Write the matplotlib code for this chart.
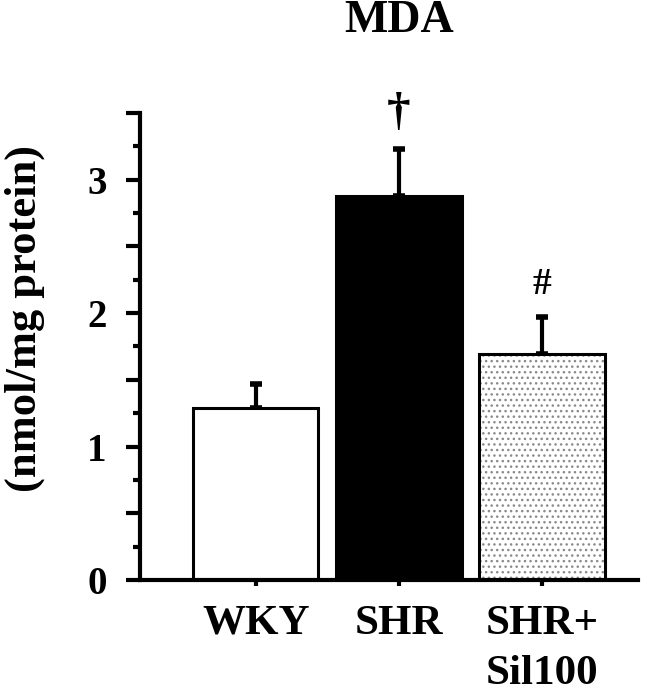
import matplotlib
matplotlib.use("Agg")
import matplotlib.pyplot as plt
from matplotlib.ticker import MultipleLocator, FuncFormatter

categories = ["WKY", "SHR", "SHR+\nSil100"]
means = [1.29, 2.88, 1.69]
errors = [0.18, 0.35, 0.28]
marks = ["", "\u2020", "#"]

plt.rcParams['font.family'] = ['Liberation Serif', 'DejaVu Serif']
plt.rcParams['font.weight'] = 'bold'
plt.rcParams['hatch.linewidth'] = 1.0

fig = plt.figure(figsize=(6.66, 6.95), dpi=100)
ax = fig.add_axes([0.21, 0.1655, 0.748, 0.672])

x = list(range(len(categories)))
w = 0.875
ax.bar(x[0], means[0], width=w, color='white', edgecolor='black', linewidth=2.2, zorder=2)
ax.bar(x[1], means[1], width=w, color='black', edgecolor='black', linewidth=2.2, zorder=2)
ax.bar(x[2], means[2], width=w, color='white', edgecolor='#8a8a8a', linewidth=0, hatch='...', zorder=2)
ax.bar(x[2], means[2], width=w, color='none', edgecolor='black', linewidth=2.2, zorder=3)

ax.errorbar(x, means, yerr=[[0, 0, 0], errors], fmt='none', ecolor='black',
            elinewidth=3, capsize=4.5, capthick=4, zorder=1)

for xi, m, e, s in zip(x, means, errors, marks):
    if s:
        fs = 34 if s == "\u2020" else 27
        ax.text(xi, m + e + 0.11, s, ha='center', va='bottom', fontsize=fs, fontweight='bold')

ax.set_ylim(0, 3.5)
ax.set_xlim(-0.81, 2.67)
ax.yaxis.set_major_locator(MultipleLocator(0.5))
ax.yaxis.set_minor_locator(MultipleLocator(0.25))
ax.yaxis.set_major_formatter(FuncFormatter(lambda v, p: f"{int(round(v))}" if abs(v - round(v)) < 1e-6 else ""))
ax.tick_params(axis='y', which='major', direction='out', length=10, width=3, labelsize=28, pad=14)
ax.tick_params(axis='y', which='minor', direction='out', length=5, width=3)
ax.set_xticks(x)
ax.set_xticklabels(categories, fontsize=31, fontweight='bold', linespacing=1.42)
ax.tick_params(axis='x', direction='out', length=4, width=3, pad=14)

for sp in ['top', 'right']:
    ax.spines[sp].set_visible(False)
for sp in ['left', 'bottom']:
    ax.spines[sp].set_linewidth(3)

fig.text(25 / 666, 1 - 318 / 695, "(nmol/mg protein)", rotation=90, ha='center', va='center',
         fontsize=32, fontweight='bold')
fig.text(399 / 666, 1 - 21 / 695, "MDA", ha='center', va='center', fontsize=33, fontweight='bold')

fig.savefig("out.png", dpi=100)
